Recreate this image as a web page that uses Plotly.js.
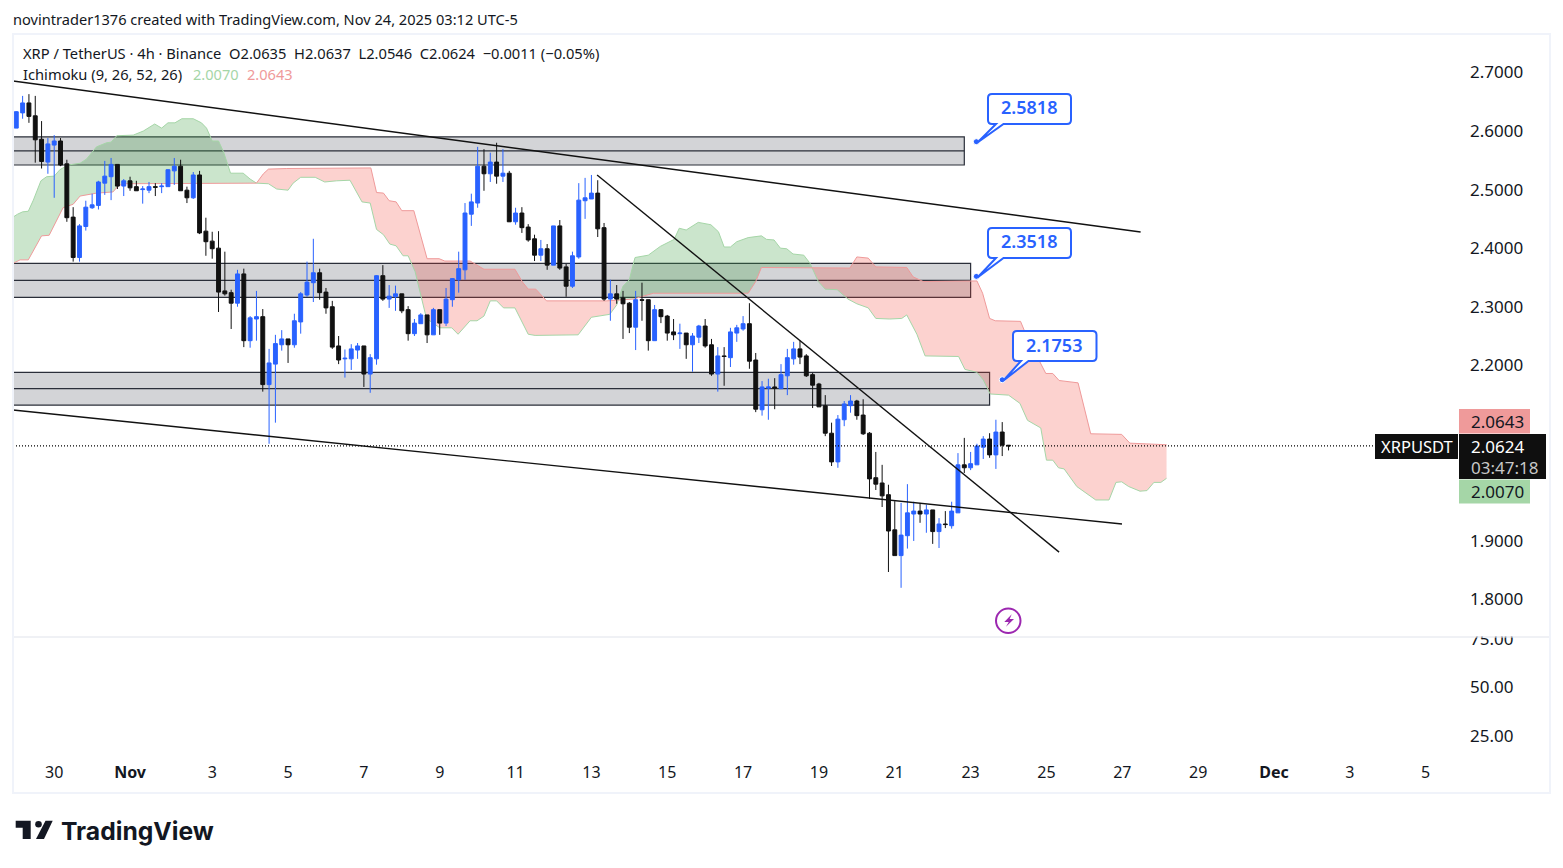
<!DOCTYPE html>
<html><head><meta charset="utf-8">
<script src="https://cdn.plot.ly/plotly-3.0.1.min.js"></script>
<style>html,body{margin:0;padding:0;background:#fff;overflow:hidden}</style>
</head><body><div id="chart" style="width:1563px;height:868px"></div>
<script>
// ---- candles (bar index = array position) ----
const open=[2.605,2.631,2.648,2.626,2.586,2.547,2.576,2.583,2.544,2.453,2.384,2.437,2.469,2.473,2.511,2.522,2.543,2.506,2.515,2.505,2.500,2.499,2.505,2.505,2.505,2.532,2.540,2.499,2.486,2.525,2.429,2.412,2.400,2.327,2.324,2.306,2.356,2.242,2.279,2.283,2.167,2.202,2.235,2.245,2.235,2.274,2.320,2.341,2.358,2.325,2.300,2.233,2.211,2.211,2.226,2.233,2.185,2.211,2.353,2.313,2.317,2.322,2.295,2.254,2.271,2.286,2.252,2.295,2.272,2.312,2.346,2.363,2.458,2.477,2.540,2.527,2.547,2.523,2.528,2.445,2.460,2.436,2.416,2.388,2.399,2.371,2.438,2.368,2.335,2.385,2.481,2.484,2.494,2.435,2.313,2.322,2.315,2.306,2.265,2.312,2.312,2.242,2.295,2.284,2.257,2.254,2.255,2.235,2.248,2.267,2.235,2.185,2.216,2.213,2.255,2.262,2.271,2.209,2.124,2.161,2.163,2.160,2.182,2.211,2.228,2.216,2.184,2.168,2.131,2.084,2.035,2.107,2.131,2.139,2.115,2.084,2.008,1.999,1.979,1.919,1.875,1.909,1.946,1.951,1.946,1.953,1.916,1.929,1.926,1.948,2.030,2.025,2.030,2.060,2.074,2.047,2.086,2.0635];
const high=[2.634,2.660,2.663,2.660,2.617,2.588,2.593,2.588,2.551,2.470,2.441,2.481,2.493,2.515,2.549,2.554,2.543,2.518,2.522,2.515,2.506,2.513,2.511,2.511,2.535,2.554,2.551,2.505,2.530,2.532,2.452,2.428,2.429,2.394,2.329,2.363,2.365,2.284,2.327,2.296,2.228,2.252,2.260,2.245,2.288,2.325,2.377,2.416,2.365,2.332,2.310,2.250,2.227,2.236,2.238,2.233,2.219,2.354,2.371,2.337,2.336,2.322,2.301,2.279,2.289,2.286,2.298,2.295,2.332,2.349,2.394,2.477,2.493,2.573,2.569,2.563,2.580,2.569,2.532,2.469,2.470,2.441,2.423,2.414,2.407,2.438,2.448,2.373,2.394,2.511,2.520,2.525,2.516,2.443,2.346,2.337,2.327,2.308,2.327,2.341,2.312,2.303,2.296,2.286,2.279,2.271,2.255,2.255,2.269,2.279,2.245,2.231,2.231,2.264,2.269,2.284,2.306,2.221,2.173,2.177,2.178,2.202,2.228,2.240,2.242,2.219,2.187,2.170,2.149,2.102,2.115,2.139,2.149,2.141,2.142,2.086,2.052,2.030,1.996,1.968,1.965,1.997,1.967,1.965,1.962,1.953,1.939,1.951,1.967,2.050,2.076,2.052,2.066,2.079,2.084,2.107,2.103,2.0637];
const low=[2.605,2.621,2.614,2.546,2.536,2.527,2.486,2.540,2.445,2.377,2.377,2.430,2.467,2.466,2.491,2.482,2.501,2.489,2.498,2.498,2.476,2.494,2.489,2.494,2.505,2.508,2.498,2.477,2.484,2.424,2.387,2.382,2.291,2.319,2.262,2.300,2.231,2.230,2.242,2.155,2.066,2.102,2.225,2.204,2.230,2.254,2.317,2.308,2.312,2.288,2.228,2.202,2.179,2.192,2.211,2.163,2.153,2.201,2.310,2.298,2.293,2.289,2.242,2.250,2.271,2.238,2.252,2.252,2.267,2.300,2.324,2.346,2.438,2.469,2.498,2.513,2.510,2.513,2.445,2.440,2.426,2.411,2.378,2.378,2.363,2.371,2.363,2.317,2.332,2.382,2.450,2.484,2.419,2.310,2.276,2.305,2.245,2.255,2.226,2.276,2.225,2.242,2.272,2.242,2.243,2.228,2.211,2.189,2.238,2.230,2.182,2.155,2.165,2.197,2.240,2.259,2.194,2.120,2.114,2.107,2.125,2.160,2.149,2.201,2.202,2.180,2.127,2.129,2.079,2.028,2.025,2.096,2.119,2.107,2.081,1.972,1.987,1.958,1.847,1.875,1.820,1.887,1.900,1.931,1.914,1.895,1.888,1.922,1.921,1.948,2.016,2.021,2.030,2.040,2.042,2.023,2.045,2.0546];
const close=[2.633,2.648,2.625,2.585,2.548,2.578,2.583,2.542,2.452,2.384,2.438,2.470,2.474,2.513,2.523,2.543,2.506,2.515,2.503,2.498,2.501,2.505,2.504,2.506,2.534,2.540,2.498,2.486,2.525,2.426,2.411,2.399,2.325,2.322,2.306,2.356,2.242,2.281,2.283,2.167,2.204,2.237,2.245,2.235,2.276,2.322,2.342,2.358,2.324,2.298,2.231,2.209,2.212,2.228,2.233,2.185,2.213,2.353,2.313,2.318,2.322,2.293,2.254,2.272,2.286,2.252,2.295,2.272,2.313,2.348,2.365,2.460,2.479,2.540,2.527,2.547,2.523,2.528,2.445,2.460,2.435,2.414,2.388,2.399,2.371,2.438,2.366,2.335,2.387,2.482,2.486,2.494,2.433,2.313,2.322,2.313,2.305,2.265,2.312,2.311,2.242,2.295,2.283,2.255,2.252,2.255,2.235,2.250,2.267,2.233,2.185,2.216,2.215,2.257,2.264,2.271,2.207,2.125,2.163,2.163,2.161,2.184,2.213,2.228,2.214,2.182,2.166,2.129,2.084,2.035,2.108,2.134,2.139,2.114,2.083,2.006,1.997,1.977,1.917,1.875,1.910,1.948,1.951,1.946,1.953,1.916,1.929,1.928,1.951,2.030,2.025,2.032,2.062,2.074,2.047,2.086,2.0635,2.0624];
// ---- Ichimoku cloud knots ----
const spanAx=[-0.52,0.2,1,1.9,2.7,3.9,4.8,6,6.9,8.2,10.1,11.1,12.7,14.3,15,15.9,18.5,20.1,21.9,23,24,25.1,26.2,28,29.3,30.1,31,32,32.8,33.9,35.9,37,38,39.9,41.2,43,43.8,45,47.3,48.8,50.7,52.8,54.7,56,57,58.1,59.1,60.1,61.2,62,63.1,64.9,67,68.9,69.9,71.8,72.9,74,75,76,77.1,78.9,81,82.1,88.9,91,93.9,95,95.5,96,97,97.9,100,101.9,104.1,104.9,106,107.9,109.9,111.1,112,113,114,115.8,117.9,118.7,119.9,120.9,121.9,122.9,124.6,125.6,126.9,128,129.9,131.6,133,134.8,136,138.2,140.1,140.9,142.5,143.8,149.1,150.1,152,153,154.1,157,158.8,160,162.1,163,164,164.9,165.8,167.8,170.8,172.9,174,174.9,176,177.8,178.9,180,181.1,182];
const spanA=[2.453,2.458,2.462,2.463,2.482,2.515,2.522,2.523,2.534,2.542,2.545,2.552,2.573,2.580,2.581,2.592,2.593,2.600,2.612,2.605,2.614,2.614,2.621,2.621,2.614,2.605,2.583,2.583,2.564,2.528,2.528,2.518,2.511,2.510,2.501,2.499,2.511,2.521,2.521,2.513,2.515,2.516,2.479,2.477,2.432,2.423,2.407,2.404,2.387,2.387,2.360,2.280,2.264,2.264,2.253,2.276,2.276,2.284,2.310,2.310,2.298,2.298,2.253,2.251,2.252,2.282,2.287,2.303,2.320,2.335,2.346,2.384,2.388,2.403,2.415,2.434,2.431,2.444,2.440,2.428,2.402,2.402,2.411,2.418,2.421,2.415,2.414,2.400,2.399,2.390,2.388,2.374,2.343,2.330,2.329,2.313,2.305,2.298,2.280,2.279,2.280,2.286,2.253,2.216,2.215,2.193,2.188,2.175,2.151,2.149,2.135,2.106,2.093,2.038,2.038,2.025,2.023,1.993,1.970,1.970,2.000,2.001,1.993,1.985,1.986,2.000,2.000,2.0070];
const spanBx=[-0.52,0.6,1.9,4,5.2,7.4,9,10.1,12.7,15.3,16.1,16.9,38,39.1,39.9,42.8,56.1,57,58.1,59,60.1,61,62.9,65,66.9,67.8,71.8,74,78.9,80.1,81,82.2,83.9,93.4,97.6,99.7,100.8,115.8,117,117.9,125.9,131.9,133,134.8,136,140.9,141.9,143.5,152,152.9,154,154.9,158.9,159.9,162.9,164,165,168,170,174.9,176.2,182];
const spanB=[2.374,2.380,2.380,2.421,2.422,2.469,2.475,2.489,2.494,2.496,2.506,2.510,2.511,2.527,2.535,2.536,2.537,2.495,2.494,2.481,2.479,2.464,2.464,2.382,2.382,2.378,2.378,2.364,2.364,2.342,2.330,2.330,2.310,2.310,2.313,2.320,2.323,2.323,2.343,2.367,2.367,2.366,2.385,2.383,2.368,2.367,2.351,2.343,2.344,2.323,2.280,2.276,2.275,2.249,2.186,2.186,2.174,2.170,2.083,2.082,2.067,2.0643];
// ---- drawings ----
const zoneTop=[2.590,2.374,2.188], zoneMid=[2.566,2.345,2.160], zoneBottom=[2.542,2.316,2.132], zoneEnd=[150,151,154];
const trendX=[[-0.52,177.9],[-0.52,174.95],[91.9,165]];
const trendY=[[2.6855,2.4276],[2.1236,1.929],[2.525,1.881]];
const calloutPrices=[2.5818,2.3518,2.1753], calloutBars=[151.9,151.9,156];
const calloutLabels=['2.5818','2.3518','2.1753'];
const lastPrice=2.0624;
// ---- axes ----
const priceTicks=[1.8,1.9,2.2,2.3,2.4,2.5,2.6,2.7];
const rsiTicks=[25,50,75];
const timeTicks=[6,18,31,43,55,67,79,91,103,115,127,139,151,163,175,187,199,211,223];
const timeLabels=['30','<b>Nov</b>','3','5','7','9','11','13','15','17','19','21','23','25','27','29','<b>Dec</b>','3','5'];

const FONT='"Noto Sans", sans-serif', INK='#131722', BLUE='#2962ff', BLACK='#111111';
const W=1563,H=868,L=13,R=1469,T=34,B=757,SEP=637;
const px=x=>(x-L)/(R-L), py=y=>(B-y)/(B-T);

// y ranges: main pane 34..637, lower pane 637..757
const mainRange=[1.7360,2.7657];
const lowerRange=[14.18,76.03];
const paneSplit=(B-SEP)/(B-T);
const xRange=[-0.52,(R-16.3)/6.32];

function interp(xs,ys,x){
  for(let i=1;i<xs.length;i++) if(x<=xs[i]){const t=(x-xs[i-1])/(xs[i]-xs[i-1]);return ys[i-1]+t*(ys[i]-ys[i-1]);}
  return ys[ys.length-1];
}
// merge the two knot lists, then split the band where the spans cross
function cloudTraces(){
  const xs=[...new Set([...spanAx,...spanBx])].sort((a,b)=>a-b);
  const a=xs.map(x=>interp(spanAx,spanA,x)), b=xs.map(x=>interp(spanBx,spanB,x));
  const out=[]; let seg={x:[xs[0]],a:[a[0]],b:[b[0]],up:a[0]>=b[0]};
  const flush=()=>out.push({type:'scatter',mode:'none',xaxis:'x',yaxis:'y',hoverinfo:'skip',showlegend:false,fill:'toself',
    fillcolor:seg.up?'rgba(67,160,71,0.28)':'rgba(244,67,54,0.24)',
    x:seg.x.concat(seg.x.slice().reverse()),y:seg.a.concat(seg.b.slice().reverse())});
  for(let i=1;i<xs.length;i++){
    const up=a[i]>=b[i];
    if(up!==seg.up){
      const d0=a[i-1]-b[i-1],d1=a[i]-b[i],t=d0/(d0-d1),cx=xs[i-1]+t*(xs[i]-xs[i-1]),cy=a[i-1]+t*(a[i]-a[i-1]);
      seg.x.push(cx);seg.a.push(cy);seg.b.push(cy);flush();
      seg={x:[cx],a:[cy],b:[cy],up};
    }
    seg.x.push(xs[i]);seg.a.push(a[i]);seg.b.push(b[i]);
  }
  flush();return out;
}
const bars=open.map((_,i)=>i);
const traces=[
  ...cloudTraces(),
  {type:'scatter',mode:'lines',x:spanAx,y:spanA,xaxis:'x',yaxis:'y',line:{color:'#a5d6a7',width:1},hoverinfo:'skip',showlegend:false},
  {type:'scatter',mode:'lines',x:spanBx,y:spanB,xaxis:'x',yaxis:'y',line:{color:'#ef9a9a',width:1},hoverinfo:'skip',showlegend:false},
  {type:'scatter',mode:'lines',x:[0,1],y:[50,50],xaxis:'x',yaxis:'y2',line:{color:'rgba(0,0,0,0)',width:0},hoverinfo:'skip',showlegend:false},
  {type:'candlestick',x:bars,open,high,low,close,xaxis:'x',yaxis:'y3',whiskerwidth:0,hoverinfo:'skip',showlegend:false,
    increasing:{line:{color:BLUE,width:1},fillcolor:BLUE},decreasing:{line:{color:BLACK,width:1},fillcolor:BLACK}},
  {type:'scatter',mode:'lines',x:[xRange[0],215.2],y:[lastPrice,lastPrice],xaxis:'x',yaxis:'y3',line:{color:'#000000',width:1.2,dash:'1px,2px'},hoverinfo:'skip',showlegend:false},
  ...trendX.map((tx,i)=>({type:'scatter',mode:'lines',x:tx,y:trendY[i],xaxis:'x',yaxis:'y3',line:{color:'#111111',width:1.4},hoverinfo:'skip',showlegend:false})),
  {type:'scatter',mode:'markers',x:calloutBars,y:calloutPrices,xaxis:'x',yaxis:'y3',marker:{color:BLUE,size:6,line:{color:'#fff',width:1}},hoverinfo:'skip',showlegend:false}
];

const shapes=[];
zoneTop.forEach((t,i)=>{
  const x0=-3,x1=zoneEnd[i];
  shapes.push({type:'rect',layer:'below',xref:'x',yref:'y',x0,x1,y0:zoneBottom[i],y1:t,fillcolor:'rgba(120,123,134,0.33)',line:{color:'#2a2e39',width:1.2}});
  shapes.push({type:'line',layer:'below',xref:'x',yref:'y',x0,x1,y0:zoneMid[i],y1:zoneMid[i],line:{color:'#2a2e39',width:1.2}});
});
function prect(x0,y0,x1,y1,fill,extra){return Object.assign({type:'rect',xref:'paper',yref:'paper',layer:'above',x0:px(x0),x1:px(x1),y0:py(y1),y1:py(y0),fillcolor:fill,line:{width:0}},extra||{});}
function ppath(pts,fill,line){return {type:'path',xref:'paper',yref:'paper',layer:'above',path:pts,fillcolor:fill,line:line||{width:0}};}
const P=(x,y)=>px(x).toFixed(5)+' '+py(y).toFixed(5);
// hide the top of the cut-off "75.00" label, then separator and frame
shapes.push(prect(1460,622,1552,636.5,'#ffffff'));
shapes.push({type:'line',xref:'paper',yref:'paper',layer:'above',x0:px(13),x1:px(1550),y0:py(SEP),y1:py(SEP),line:{color:'#e0e3eb',width:1}});
shapes.push({type:'rect',xref:'paper',yref:'paper',layer:'above',x0:px(13),x1:px(1550),y0:py(793),y1:py(34),fillcolor:'rgba(0,0,0,0)',line:{color:'#f0f3fa',width:2}});
// price labels
shapes.push(prect(1459,409,1530,433.5,'#ef9a9a'));
shapes.push(prect(1459,479.5,1530,503.5,'#a5d6a7'));
shapes.push(prect(1459,434,1546,479,'#0f0f0f'));
shapes.push(prect(1375,434,1458,459,'#0f0f0f'));
// callouts
function callout(x0,y0,x1,y1,t0,t1,dx,dy){
  const r=4;
  const d='M'+P(x0+r,y0)+' L'+P(x1-r,y0)+' Q'+P(x1,y0)+' '+P(x1,y0+r)+' L'+P(x1,y1-r)+' Q'+P(x1,y1)+' '+P(x1-r,y1)+
    ' L'+P(t1,y1)+' L'+P(dx+1.5,dy+0.5)+' L'+P(t0,y1)+' L'+P(x0+r,y1)+' Q'+P(x0,y1)+' '+P(x0,y1-r)+' L'+P(x0,y0+r)+' Q'+P(x0,y0)+' '+P(x0+r,y0)+' Z';
  shapes.push(ppath(d,'#ffffff',{color:BLUE,width:2}));
}
callout(988,94,1071,124,996,1003.5,976,142);
callout(988,228,1071,258,996,1003.5,976,277);
callout(1013,331,1096.5,361,1021,1028.5,1002,380);
// news icon
shapes.push({type:'circle',xref:'paper',yref:'paper',layer:'above',x0:px(996),x1:px(1020.5),y0:py(633),y1:py(608.5),fillcolor:'#fff',line:{color:'#9c27b0',width:2}});
shapes.push(ppath('M'+P(1011.7,614.3)+' L'+P(1004.3,622)+' L'+P(1008.7,622)+' L'+P(1006,626.7)+' L'+P(1014,619)+' L'+P(1009.7,619)+' Z','#9c27b0'));
// TradingView logo
shapes.push(ppath('M'+P(15.7,820.7)+' L'+P(30.7,820.7)+' L'+P(30.7,839)+' L'+P(22.7,839)+' L'+P(22.7,827.7)+' L'+P(15.7,827.7)+' Z','#131722'));
shapes.push({type:'circle',xref:'paper',yref:'paper',layer:'above',x0:px(35.2),x1:px(41.8),y0:py(827.5),y1:py(820.9),fillcolor:'#131722',line:{width:0}});
shapes.push(ppath('M'+P(45.5,820.7)+' L'+P(52.7,820.7)+' L'+P(44,839)+' L'+P(36,839)+' Z','#131722'));

function ann(text,x,y,size,color,o){return Object.assign({text,xref:'paper',yref:'paper',x:px(x),y:py(y),xanchor:'left',yanchor:'middle',showarrow:false,align:'left',font:{family:FONT,size,color}},o||{});}
const annotations=[
  ann('novintrader1376 created with TradingView.com, Nov 24, 2025 03:12 UTC-5',11,19,14.6,INK),
  ann('XRP / TetherUS · 4h · Binance&nbsp;&nbsp;O2.0635&nbsp;&nbsp;H2.0637&nbsp;&nbsp;L2.0546&nbsp;&nbsp;C2.0624&nbsp;&nbsp;−0.0011 (−0.05%)',21,52.5,14.7,INK),
  ann('Ichimoku (9, 26, 52, 26)',21,73.5,14.7,INK),
  ann('2.0070',191,73.5,14.6,'#a5d6a7'),
  ann('2.0643',245,73.5,14.6,'#ef9a9a'),
  ann('2.0643',1469,421.5,17,INK),
  ann('2.0070',1469,491.5,17,INK),
  ann('2.0624',1469,446,17,'#ffffff'),
  ann('03:47:18',1469,467,17,'#c8c8c8'),
  ann('XRPUSDT',1379,446,16.5,'#ffffff'),
  ann(calloutLabels[0],1029,107,18,BLUE,{xanchor:'center',font:{family:FONT,size:18,color:BLUE,weight:600}}),
  ann(calloutLabels[1],1029,241.5,18,BLUE,{xanchor:'center',font:{family:FONT,size:18,color:BLUE,weight:600}}),
  ann(calloutLabels[2],1054,344.5,18,BLUE,{xanchor:'center',font:{family:FONT,size:18,color:BLUE,weight:600}}),
  ann('TradingView',59,831,24.7,'#131722',{font:{family:'Inter, sans-serif',size:24.7,color:'#131722',weight:700}})
];
const yTick={family:FONT,size:17,color:INK};
const layout={
  width:W,height:H,paper_bgcolor:'#fff',plot_bgcolor:'#fff',showlegend:false,boxgap:0.12,
  margin:{l:L,r:W-R,t:T,b:H-B,pad:0},
  xaxis:{domain:[0,1],range:xRange,anchor:'y2',tickmode:'array',tickvals:timeTicks,ticktext:timeLabels,ticklen:0,ticklabelstandoff:4,tickfont:{family:FONT,size:16,color:INK},showgrid:false,zeroline:false,showline:false,rangeslider:{visible:false},fixedrange:true},
  yaxis:{domain:[paneSplit,1],range:mainRange,anchor:'x',side:'right',tickmode:'array',tickvals:priceTicks,tickformat:'.4f',ticklen:0,tickfont:yTick,showgrid:false,zeroline:false,showline:false,fixedrange:true},
  yaxis2:{domain:[0,paneSplit],range:lowerRange,anchor:'x',side:'right',tickmode:'array',tickvals:rsiTicks,tickformat:'.2f',ticklen:0,tickfont:yTick,showgrid:false,zeroline:false,showline:false,fixedrange:true},
  yaxis3:{overlaying:'y',range:mainRange,anchor:'x',side:'right',showticklabels:false,ticklen:0,showgrid:false,zeroline:false,showline:false,fixedrange:true},
  shapes,annotations
};
Plotly.newPlot('chart',traces,layout,{staticPlot:true,displayModeBar:false});
</script></body></html>
